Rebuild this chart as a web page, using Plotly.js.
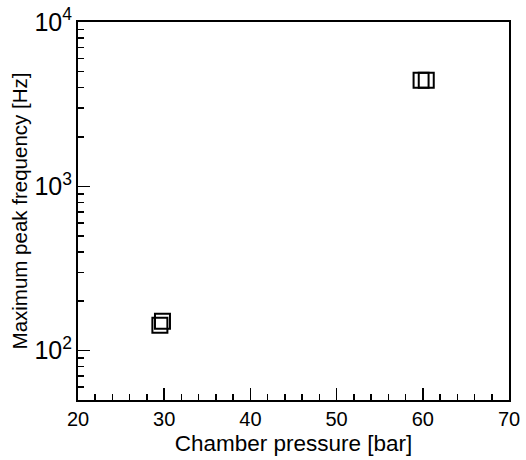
<!DOCTYPE html>
<html>
<head>
<meta charset="utf-8">
<script src="https://cdn.plot.ly/plotly-3.0.1.min.js"></script>
<style>html,body{margin:0;padding:0;background:#fff;}#chart{width:526px;height:460px;}</style>
</head>
<body>
<div id="chart"></div>
<script>
// Chamber pressure [bar]
var pressure = [29.5, 29.8, 59.8, 60.4];
// Maximum peak frequency [Hz]
var peakFreq = [143, 151, 4420, 4420];

var xTitle = "Chamber pressure [bar]";
var yTitle = "Maximum peak frequency [Hz]";

var trace = {
  x: pressure,
  y: peakFreq,
  type: "scatter",
  mode: "markers",
  marker: {symbol: "square-open", size: 15, color: "#000", line: {width: 2, color: "#000"}},
  showlegend: false
};

var font = "Liberation Sans, Arial, sans-serif";
var layout = {
  width: 526, height: 460,
  margin: {l: 78, r: 17, t: 22, b: 60},
  paper_bgcolor: "#fff", plot_bgcolor: "#fff",
  font: {family: font, color: "#000", size: 20},
  xaxis: {
    range: [20, 70], dtick: 10, tick0: 20,
    ticks: "inside", ticklen: 12, tickwidth: 1.5, tickcolor: "#000",
    minor: {dtick: 2, ticks: "inside", ticklen: 6, tickwidth: 1.5, tickcolor: "#000"},
    showline: true, linewidth: 2, linecolor: "#000", mirror: true,
    showgrid: false, zeroline: false,
    tickfont: {size: 20},
    title: {text: xTitle, font: {size: 22.5}, standoff: 6}
  },
  yaxis: {
    type: "log", range: [1.7, 4], dtick: 1,
    exponentformat: "power",
    ticks: "inside", ticklen: 12, tickwidth: 1.5, tickcolor: "#000",
    minor: {dtick: "D1", ticks: "inside", ticklen: 6, tickwidth: 1.5, tickcolor: "#000"},
    showline: true, linewidth: 2, linecolor: "#000", mirror: true,
    showgrid: false, zeroline: false,
    tickfont: {size: 20},
    title: {text: yTitle, font: {size: 20.5}, standoff: 1}
  }
};

Plotly.newPlot("chart", [trace], layout, {displayModeBar: false, staticPlot: true});
</script>
</body>
</html>
